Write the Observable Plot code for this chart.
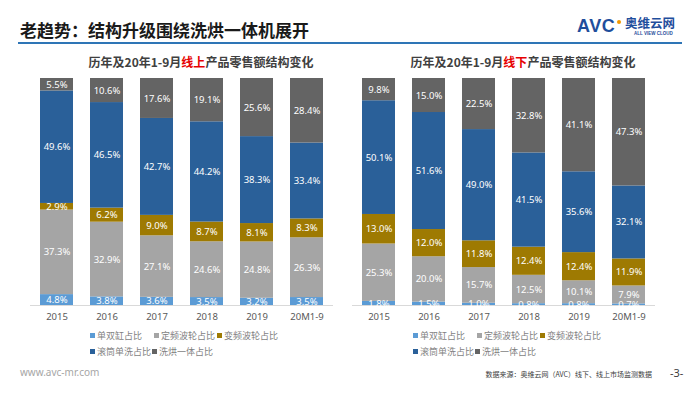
<!DOCTYPE html>
<html>
<head>
<meta charset="utf-8">
<script src="https://cdn.jsdelivr.net/npm/d3@7"></script>
<script src="https://cdn.jsdelivr.net/npm/@observablehq/plot@0.6"></script>
<style>
  html, body { margin: 0; padding: 0; background: #fff; }
  body { width: 700px; height: 394px; position: relative; overflow: hidden; font-family: "Noto Sans", "Noto Sans CJK SC", sans-serif; }
  .abs { position: absolute; white-space: nowrap; }
  .title { left: 20px; top: 20px; font-size: 17px; line-height: 20px; font-weight: 700; color: #1a1a1a; font-family: "Noto Sans CJK SC", sans-serif; }
  .rule { left: 18px; top: 42px; width: 664px; height: 2px; background: #2E75B6; }
  .sub { top: 55px; font-size: 12px; line-height: 14px; font-weight: 700; color: #404040; transform: translateX(-50%); font-family: "Noto Sans CJK SC", sans-serif; }
  .sub .hl { color: #E60000; }
  .chart { position: absolute; top: 72px; }
  .legend { position: absolute; font-size: 9px; color: #7F7F7F; font-family: "Noto Sans CJK SC", sans-serif; }
  .legend .item { position: absolute; white-space: nowrap; line-height: 12px; }
  .legend .sw { display: inline-block; width: 5px; height: 5px; margin-right: 2px; vertical-align: 1px; }
  .foot { font-size: 10px; color: #A6A6A6; left: 20px; top: 365px; line-height: 14px; }
  .src { font-size: 7px; color: #404040; right: 48px; top: 369px; line-height: 10px; font-family: "Noto Sans CJK SC", sans-serif; }
  .page { font-size: 11px; color: #404040; left: 670px; top: 366px; line-height: 14px; }
</style>
</head>
<body>
<script>
// ---------- data ----------
const years = ["2015", "2016", "2017", "2018", "2019", "20M1-9"];
const seriesNames = ["单双缸占比", "定频波轮占比", "变频波轮占比", "滚筒单洗占比", "洗烘一体占比"];
const seriesColors = ["#5B9BD5", "#A5A5A5", "#9E7A02", "#2A6099", "#646464"];

// online (线上)
const onlineTwinTub   = [4.8, 3.8, 3.6, 3.5, 3.2, 3.5];
const onlineFixedFreq = [37.3, 32.9, 27.1, 24.6, 24.8, 26.3];
const onlineInverter  = [2.9, 6.2, 9.0, 8.7, 8.1, 8.3];
const onlineDrumWash  = [49.6, 46.5, 42.7, 44.2, 38.3, 33.4];
const onlineWashDry   = [5.5, 10.6, 17.6, 19.1, 25.6, 28.4];

// offline (线下)
const offlineTwinTub   = [1.8, 1.5, 1.0, 0.8, 0.8, 0.7];
const offlineFixedFreq = [25.3, 20.0, 15.7, 12.5, 10.1, 7.9];
const offlineInverter  = [13.0, 12.0, 11.8, 12.4, 12.4, 11.9];
const offlineDrumWash  = [50.1, 51.6, 49.0, 41.5, 35.6, 32.1];
const offlineWashDry   = [9.8, 15.0, 22.5, 32.8, 41.1, 47.3];

const titleText = "老趋势：结构升级围绕洗烘一体机展开";
const subtitleOnline = ["历年及20年1-9月", "线上", "产品零售额结构变化"];
const subtitleOffline = ["历年及20年1-9月", "线下", "产品零售额结构变化"];
const footerUrl = "www.avc-mr.com";
const sourceText = "数据来源：奥维云网（AVC）线下、线上市场监测数据";
const pageText = "-3-";

function buildRows(seriesArrays) {
  const rows = [];
  years.forEach((yr, i) => {
    seriesArrays.forEach((arr, s) => {
      rows.push({ year: yr, series: seriesNames[s], value: arr[i] });
    });
  });
  return rows;
}

const onlineRows = buildRows([onlineTwinTub, onlineFixedFreq, onlineInverter, onlineDrumWash, onlineWashDry]);
const offlineRows = buildRows([offlineTwinTub, offlineFixedFreq, offlineInverter, offlineDrumWash, offlineWashDry]);

function makeChart(rows, ml, mr, po) {
  return Plot.plot({
    width: 350,
    height: 255,
    marginTop: 6,
    marginBottom: 22,
    marginLeft: ml,
    marginRight: mr,
    style: { fontSize: "9.5px", fontFamily: "'Noto Sans', 'Noto Sans CJK SC', sans-serif", color: "#595959", background: "transparent" },
    x: { domain: years, paddingInner: 0.335, paddingOuter: po, axis: null, label: null },
    y: { domain: [0, 1], axis: null, label: null },
    color: { domain: seriesNames, range: seriesColors },
    marks: [
      Plot.barY(rows, { x: "year", y: "value", fill: "series", z: "series", order: seriesNames, offset: "normalize" }),
      Plot.ruleY([0], { stroke: "#D9D9D9", strokeWidth: 1 }),
      Plot.text(rows, Plot.stackY({ x: "year", y: "value", z: "series", order: seriesNames, offset: "normalize",
        text: d => d.value.toFixed(1) + "%", fill: "white", fontSize: 9.5 })),
      Plot.axisX({ domain: years, tickSize: 0, tickPadding: 8, fill: "#595959", label: null })
    ]
  });
}

function addDiv(cls, text, styleObj) {
  const d = document.createElement("div");
  d.className = cls;
  if (text != null) d.textContent = text;
  if (styleObj) Object.assign(d.style, styleObj);
  document.body.appendChild(d);
  return d;
}

// header
addDiv("abs title", titleText);
addDiv("abs rule");

// logo
addDiv("abs", "AVC", { left: "577px", top: "16px", fontSize: "18px", lineHeight: "20px", fontWeight: "900",
  color: "#1F4E9C", fontFamily: "'Liberation Sans', sans-serif", letterSpacing: "0.5px" });
addDiv("abs", null, { left: "617px", top: "20px", width: "4px", height: "4px", borderRadius: "50%", background: "#F39800" });
addDiv("abs", "奥维云网", { left: "625px", top: "17px", fontSize: "12.5px", lineHeight: "12px", fontWeight: "700",
  color: "#1F4E9C", fontFamily: "'Noto Sans CJK SC', sans-serif" });
addDiv("abs", "ALL VIEW CLOUD", { left: "634px", top: "31px", fontSize: "4.5px", lineHeight: "5px", fontWeight: "700",
  color: "#1F4E9C", fontFamily: "'Liberation Sans', sans-serif" });

// subtitles
function addSubtitle(parts, cx) {
  const d = addDiv("abs sub", null, { left: cx + "px" });
  d.appendChild(document.createTextNode(parts[0]));
  const s = document.createElement("span"); s.className = "hl"; s.textContent = parts[1];
  d.appendChild(s);
  d.appendChild(document.createTextNode(parts[2]));
}
addSubtitle(subtitleOnline, 201);
addSubtitle(subtitleOffline, 523);

// charts
const c1 = addDiv("chart", null, { left: "0px" });
c1.appendChild(makeChart(onlineRows, 30, 17, 0.17));
const c2 = addDiv("chart", null, { left: "350px" });
c2.appendChild(makeChart(offlineRows, 2, 45, 0.18));

// legends
function addLegend(left, top) {
  const lg = addDiv("legend", null, { left: left + "px", top: top + "px" });
  const pos = [[0, 0], [64, 0], [127, 0], [0, 16], [62, 16]];
  seriesNames.forEach((name, i) => {
    const it = document.createElement("div");
    it.className = "item";
    it.style.left = pos[i][0] + "px";
    it.style.top = pos[i][1] + "px";
    const sw = document.createElement("span");
    sw.className = "sw";
    sw.style.background = seriesColors[i];
    it.appendChild(sw);
    it.appendChild(document.createTextNode(name));
    lg.appendChild(it);
  });
}
addLegend(90, 330);
addLegend(413, 330);

// footer
addDiv("abs foot", footerUrl);
addDiv("abs src", sourceText);
addDiv("abs page", pageText);
</script>
</body>
</html>
